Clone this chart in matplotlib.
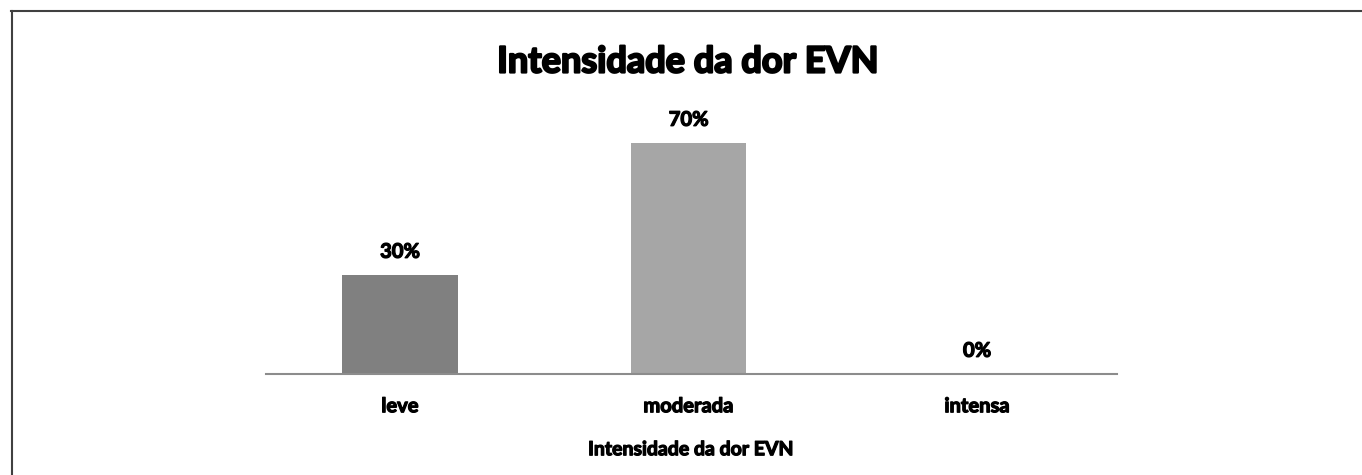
import matplotlib
matplotlib.use("Agg")
import matplotlib.pyplot as plt
import matplotlib.patheffects as pe
from matplotlib.lines import Line2D

categories = ["leve", "moderada", "intensa"]
values = [0.30, 0.70, 0.00]
labels = ["30%", "70%", "0%"]
colors = ["#808080", "#A6A6A6", "#D9D9D9"]
title = "Intensidade da dor EVN"
xlabel = "Intensidade da dor EVN"

plt.rcParams['font.family'] = ['Lato', 'DejaVu Sans']
WEIGHT = "bold"
thick_small = [pe.withStroke(linewidth=0.9, foreground="black")]
thick_big = [pe.withStroke(linewidth=1.6, foreground="black")]

W, H = 1362, 475
fig = plt.figure(figsize=(W / 100, H / 100), dpi=100)

# axes placement in pixels
x0, x1 = 266, 1117
y_base, y_top = 374, 100
ax = fig.add_axes([x0 / W, 1 - y_base / H, (x1 - x0) / W, (y_base - y_top) / H])

xs = list(range(len(categories)))
ax.bar(xs, values, width=0.40, color=colors)
ax.set_xlim((x0 - 400) / 288.5, (x1 - 400) / 288.5)
ax.set_ylim(0, (y_base - y_top) / 330)

for x, v, lab in zip(xs, values, labels):
    ax.annotate(lab, (x, v), xytext=(0, 9.5), textcoords="offset points",
                ha="center", va="bottom", fontsize=14.5, fontweight=WEIGHT,
                path_effects=thick_small)

for s in ["top", "right", "left"]:
    ax.spines[s].set_visible(False)
ax.spines["bottom"].set_color("#8C8C8C")
ax.spines["bottom"].set_linewidth(1.5)
ax.set_yticks([])
ax.set_xticks(xs)
ax.set_xticklabels(categories, fontsize=14.5, fontweight=WEIGHT)
for t in ax.get_xticklabels():
    t.set_path_effects(thick_small)
ax.tick_params(axis="x", length=0, pad=16)
ax.set_xlabel(xlabel, fontsize=14, fontweight=WEIGHT, labelpad=18,
              path_effects=thick_small)

fig.text(688 / W, 1 - 62 / H, title, ha="center", va="center",
         fontsize=26, fontweight=WEIGHT, path_effects=thick_big)

# frame lines (top and left)
fig.add_artist(Line2D([11 / W, 1], [1 - 10.5 / H, 1 - 10.5 / H], color="#404040", lw=1.5,
                      transform=fig.transFigure))
fig.add_artist(Line2D([11.5 / W, 11.5 / W], [0, 1 - 10.5 / H], color="#404040", lw=1.5,
                      transform=fig.transFigure))

fig.savefig("out.png", dpi=100, facecolor="white")
